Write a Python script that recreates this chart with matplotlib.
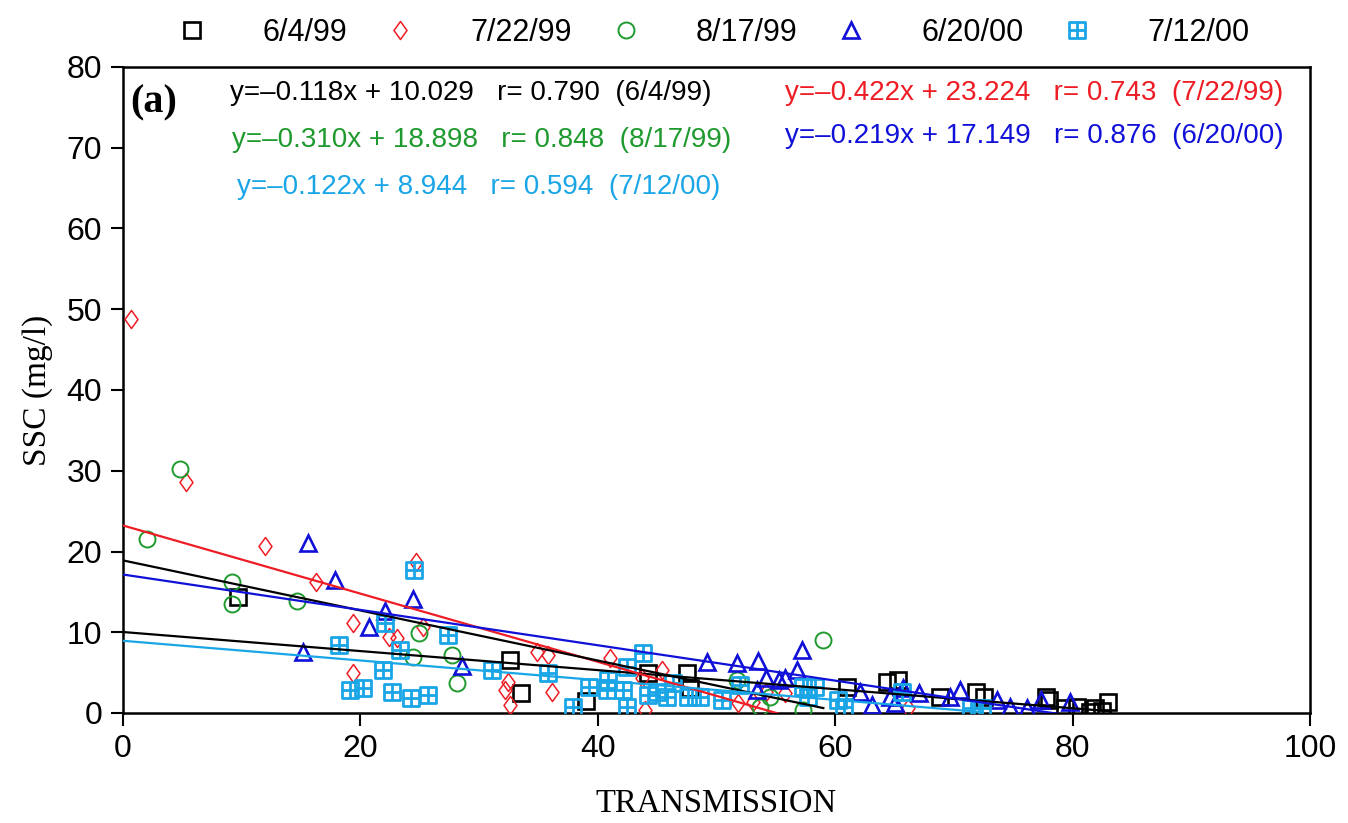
import matplotlib
matplotlib.use("Agg")
import matplotlib.pyplot as plt
from matplotlib.path import Path
import numpy as np

# ---------------- data ----------------
labels = ["6/4/99", "7/22/99", "8/17/99", "6/20/00", "7/12/00"]

x_0604 = [9.7, 32.6, 33.5, 39.0, 44.2, 47.5, 47.8, 61.0, 64.4, 65.3, 68.8, 71.9,
          72.5, 77.8, 78.0, 79.4, 80.4, 81.5, 81.9, 82.5, 83.0]
y_0604 = [14.4, 6.6, 2.5, 1.5, 5.0, 5.0, 3.1, 3.2, 3.8, 4.1, 2.0, 2.6,
          2.0, 2.0, 1.6, 0.6, 0.8, 0.1, 0.6, 0.2, 1.4]

x_0722 = [0.7, 5.3, 12.0, 16.3, 24.7, 19.4, 25.3, 22.4, 23.1, 19.4, 34.9, 35.8,
          32.2, 32.4, 32.6, 36.1, 41.0, 45.4, 43.7, 44.0, 51.8, 53.1, 54.2, 55.8, 66.1]
y_0722 = [48.8, 28.6, 20.7, 16.2, 18.7, 11.1, 10.7, 9.4, 9.3, 5.0, 7.6, 7.2,
          2.8, 3.8, 1.0, 2.6, 6.8, 5.3, 4.3, 0.4, 1.2, 1.4, 2.6, 2.5, 0.6]

x_0817 = [4.8, 2.0, 9.2, 9.2, 14.7, 24.9, 24.4, 27.7, 28.1, 51.7, 53.7, 54.5, 57.3, 59.0]
y_0817 = [30.2, 21.5, 16.2, 13.5, 13.9, 9.9, 6.9, 7.2, 3.7, 4.1, 0.7, 2.0, 0.4, 9.0]

x_0620 = [15.6, 17.9, 15.2, 24.4, 22.1, 20.7, 28.6, 49.2, 51.7, 53.5, 54.2, 53.4,
          55.3, 57.2, 56.8, 55.8, 62.1, 63.1, 64.6, 65.7, 65.0, 67.1, 69.7, 70.5,
          73.6, 74.7, 76.2, 77.3, 79.8]
y_0620 = [21.0, 16.5, 7.5, 14.1, 12.6, 10.6, 5.8, 6.3, 6.2, 6.5, 4.3, 2.8,
          4.1, 7.8, 5.3, 4.3, 2.6, 1.0, 2.0, 3.1, 1.2, 2.5, 2.0, 2.8,
          1.6, 0.8, 0.6, 1.6, 1.4]

x_0712 = [24.5, 18.2, 22.1, 27.4, 23.3, 21.9, 19.1, 20.2, 22.7, 24.3, 25.7, 31.1,
          35.8, 37.9, 39.3, 40.9, 40.8, 42.5, 43.8, 42.1, 42.5, 44.2, 46.3, 45.8,
          47.6, 48.6, 50.5, 52.0, 45.0, 57.3, 58.3, 57.7, 60.2, 60.7, 65.6, 71.4, 72.4]
y_0712 = [17.7, 8.4, 11.1, 9.7, 7.8, 5.3, 2.8, 3.1, 2.6, 1.8, 2.2, 5.3,
          5.0, 0.7, 3.2, 4.1, 2.8, 5.7, 7.4, 2.8, 0.7, 2.2, 3.7, 2.0,
          2.0, 2.0, 1.6, 3.5, 2.6, 3.2, 3.2, 2.0, 1.6, 0.7, 2.6, 0.6, 0.6]

slopes = [-0.118, -0.422, -0.310, -0.219, -0.122]
intercepts = [10.029, 23.224, 18.898, 17.149, 8.944]
r_values = [0.790, 0.743, 0.848, 0.876, 0.594]

xs = [x_0604, x_0722, x_0817, x_0620, x_0712]
ys = [y_0604, y_0722, y_0817, y_0620, y_0712]

# ---------------- style ----------------
colors = ["#000000", "#ee1c24", "#1f9a2e", "#1010d8", "#1aa6e6"]
line_colors = ["#000000", "#ee1c24", "#000000", "#1010d8", "#1aa6e6"]

grid_sq = Path([(-1, -1), (1, -1), (1, 1), (-1, 1), (-1, -1),
                (0, -1), (0, 1), (-1, 0), (1, 0)],
               [Path.MOVETO, Path.LINETO, Path.LINETO, Path.LINETO, Path.CLOSEPOLY,
                Path.MOVETO, Path.LINETO, Path.MOVETO, Path.LINETO])
diamond = Path([(0, 1), (0.72, 0), (0, -1), (-0.72, 0), (0, 1)],
               [Path.MOVETO, Path.LINETO, Path.LINETO, Path.LINETO, Path.CLOSEPOLY])
markers = ["s", diamond, "o", "^", grid_sq]
msizes = [11.5, 13, 11.5, 11.5, 12]
mews = [1.9, 1.1, 1.4, 1.9, 2.0]

sans = ["Liberation Sans", "DejaVu Sans"]
serif = ["Liberation Serif", "DejaVu Serif"]

fig = plt.figure(figsize=(13.48, 8.23), dpi=100)
ax = fig.add_axes([123 / 1348, 1 - 713 / 823, (1310 - 123) / 1348, (713 - 67) / 823])

handles = []
for i in range(5):
    h, = ax.plot(xs[i], ys[i], linestyle="none", marker=markers[i], ms=msizes[i],
                 mfc="none", mec=colors[i], mew=mews[i], label=labels[i], zorder=3)
    handles.append(h)

for i in range(5):
    xl = np.array([0, max(xs[i])])
    ax.plot(xl, slopes[i] * xl + intercepts[i], color=line_colors[i], lw=1.6, zorder=4)

ax.set_xlim(0, 100)
ax.set_ylim(0, 80)
ax.set_xticks([0, 20, 40, 60, 80, 100])
ax.set_yticks(range(0, 81, 10))
ax.tick_params(direction="out", length=9, width=1.5, labelsize=23, pad=6)
for lab in ax.get_xticklabels() + ax.get_yticklabels():
    lab.set_family(sans)
for sp in ax.spines.values():
    sp.set_linewidth(1.8)

ax.set_xlabel("TRANSMISSION", family=serif, fontsize=23.5, labelpad=18)
ax.set_ylabel("SSC (mg/l)", family=serif, fontsize=24, labelpad=10)

ax.text(0.006, 0.945, "(a)", transform=ax.transAxes, family=serif,
        fontweight="bold", fontsize=29, va="center", ha="left")

eq_pos = [(230, 93), (785, 93), (232, 140), (785, 136), (237, 187)]
for i in range(5):
    s = "y=\u2013%.3fx + %.3f   r= %.3f  (%s)" % (abs(slopes[i]), intercepts[i], r_values[i], labels[i])
    px, py = eq_pos[i]
    fig.text(px / 1348, 1 - py / 823, s, color=colors[i], family=sans,
             fontsize=20, va="center", ha="left")

leg = ax.legend(handles=handles, loc="center", bbox_to_anchor=(0.497, 1.053),
                ncol=5, frameon=False, prop={"family": sans, "size": 22},
                handlelength=1.0, handletextpad=1.8, columnspacing=1.25,
                borderaxespad=0)

fig.savefig("out.png", dpi=100)
